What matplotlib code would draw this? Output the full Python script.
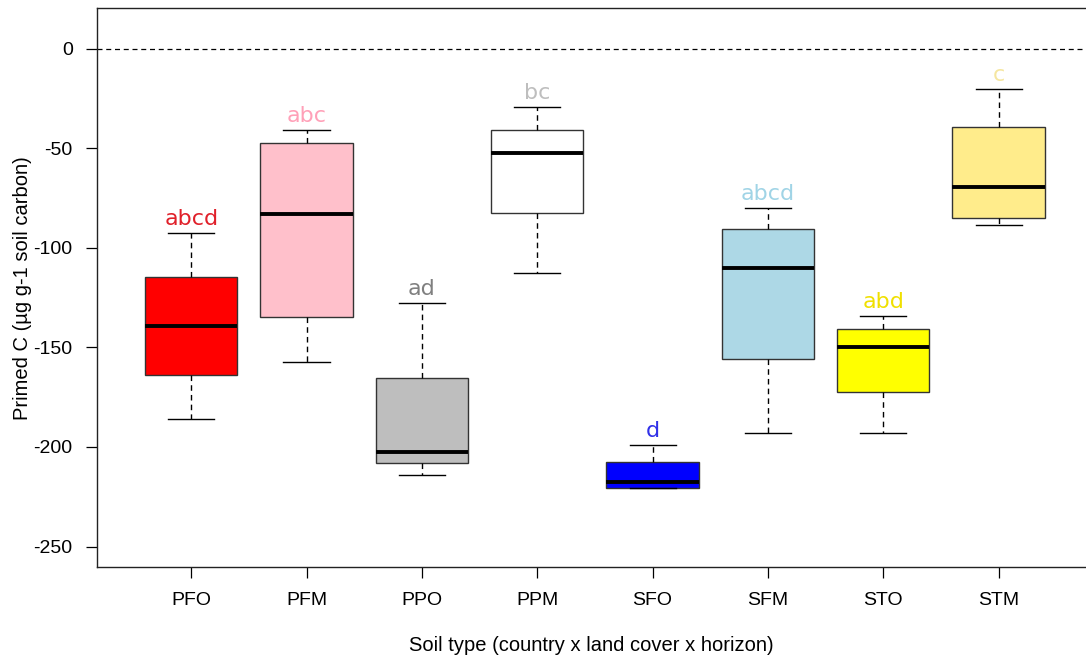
import numpy as np
import matplotlib
matplotlib.use("Agg")
import matplotlib.pyplot as plt

plt.rcParams["axes.unicode_minus"] = False

# soil types and box statistics
soil_types = ["PFO", "PFM", "PPO", "PPM", "SFO", "SFM", "STO", "STM"]
whisk_hi = [-92.6, -41.0, -127.5, -29.5, -198.8, -79.9, -134.1, -20.1]
q3       = [-114.4, -47.3, -165.3, -40.6, -207.5, -90.4, -140.9, -39.1]
medians  = [-139.3, -82.9, -202.5, -52.2, -217.6, -109.9, -150.0, -69.7]
q1       = [-163.9, -134.6, -208.0, -82.4, -220.6, -155.9, -172.6, -85.1]
whisk_lo = [-185.9, -157.2, -213.9, -112.7, -220.6, -192.8, -192.8, -88.4]

letters = ["abcd", "abc", "ad", "bc", "d", "abcd", "abd", "c"]

box_colors = ["#FF0000", "#FFC0CB", "#BEBEBE", "#FFFFFF",
              "#0000FF", "#ADD8E6", "#FFFF00", "#FFEC8B"]
letter_colors = ["#E0202A", "#FFA0B8", "#808080", "#BEBEBE",
                 "#3030E8", "#A0D4E6", "#F0E000", "#F5E6A0"]

fig = plt.figure(figsize=(10.86, 6.61), dpi=100)
ax = fig.add_axes([0.089, 0.1418, 0.911, 0.846])

stats = []
for i, name in enumerate(soil_types):
    stats.append(dict(label=name, med=medians[i], q1=q1[i], q3=q3[i],
                      whislo=whisk_lo[i], whishi=whisk_hi[i], fliers=[]))

positions = np.arange(1, len(soil_types) + 1)
bp = ax.bxp(stats, positions=positions, widths=0.8, patch_artist=True,
            showfliers=False,
            boxprops=dict(edgecolor="#333333", linewidth=1.0),
            medianprops=dict(color="black", linewidth=2.8),
            whiskerprops=dict(color="black", linewidth=1.0, linestyle=(0, (4, 3))),
            capprops=dict(color="black", linewidth=1.0),
            capwidths=0.4)
for patch, c in zip(bp["boxes"], box_colors):
    patch.set_facecolor(c)

ax.axhline(0, color="black", linewidth=0.9, linestyle=(0, (4, 3)), zorder=0)

for i, lab in enumerate(letters):
    ax.text(positions[i], whisk_hi[i] + 7, lab, ha="center", va="center",
            fontsize=16, color=letter_colors[i], family="DejaVu Sans")

ax.set_xlim(0.18, 8.758)
ax.set_ylim(-260.4, 20.4)
ax.set_yticks([0, -50, -100, -150, -200, -250])
ax.set_xticks(positions)
ax.set_xticklabels(soil_types)

ax.spines["right"].set_visible(False)
for s in ["left", "top", "bottom"]:
    ax.spines[s].set_linewidth(1.0)
    ax.spines[s].set_color("#222222")

ax.tick_params(axis="both", length=7.7, width=0.9, labelsize=14,
               labelfontfamily="Liberation Sans")
ax.tick_params(axis="y", pad=9.6)
ax.tick_params(axis="x", pad=10)

ax.set_ylabel("Primed C (\u00b5g g-1 soil carbon)", fontsize=14.5,
              family="Liberation Sans", labelpad=1)
ax.set_xlabel("Soil type (country x land cover x horizon)", fontsize=14.5,
              family="Liberation Sans", labelpad=19.5)

fig.savefig("out.png", dpi=100)
